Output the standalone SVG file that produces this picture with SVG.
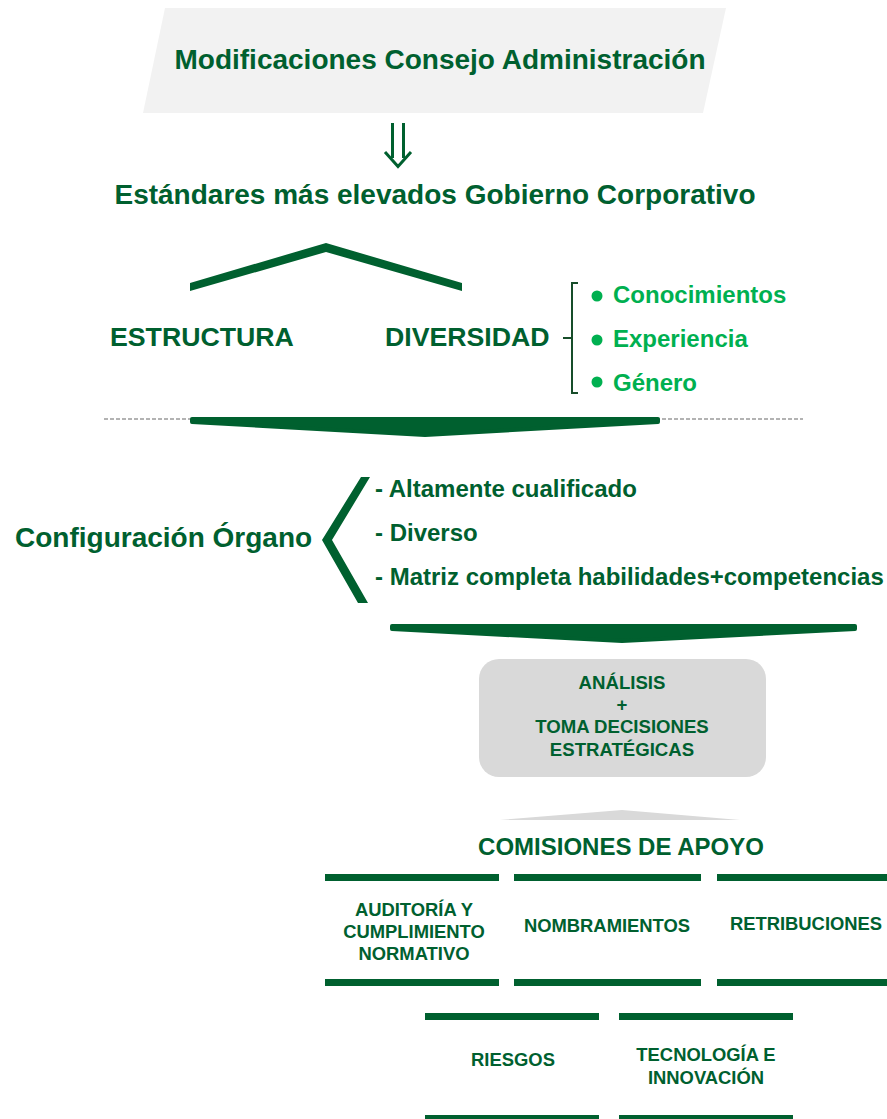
<svg xmlns="http://www.w3.org/2000/svg" width="887" height="1119" viewBox="0 0 887 1119">
<style>
text{font-family:"Liberation Sans",Arial,sans-serif;font-weight:bold;fill:#00602F}
.c{text-anchor:middle}
.g{fill:#00B050}
.dk{fill:#00602F}
</style>
<rect width="887" height="1119" fill="#ffffff"/>
<g id="title">
<polygon points="165,8 726,8 703,113 143,113" fill="#f2f2f2"/>
<text class="c" x="440" y="69" font-size="28">Modificaciones Consejo Administración</text>
</g>
<g id="connectors">
<path d="M392.5,123 V158 M403.5,123 V158 M385,152 L398,166.5 L411,152" fill="none" stroke="#00602F" stroke-width="3"/>
<polygon points="190,283 326,243 462,283 462,291 326,252 190,291" class="dk"/>
<line x1="104" y1="419" x2="803" y2="419" stroke="#9a9a9a" stroke-width="1.5" stroke-dasharray="4 2"/>
<polygon points="192,419 658,419 658,422 425,435 192,422" class="dk" stroke="#00602F" stroke-width="4" stroke-linejoin="round"/>
<polygon points="361,477 322,540 358,603 368,603 332,540 370,477" class="dk"/>
<polygon points="392,626 855,626 855,629 622,641 392,629" class="dk" stroke="#00602F" stroke-width="4" stroke-linejoin="round"/>
<polygon points="500,820 622,810 740,820" fill="#d9d9d9"/>
</g>
<g id="estandares">
<text class="c" x="435" y="204" font-size="28">Estándares más elevados Gobierno Corporativo</text>
</g>
<g id="estructura">
<text x="110" y="346" font-size="26.7">ESTRUCTURA</text>
</g>
<g id="diversidad">
<text x="385" y="346" font-size="26.7">DIVERSIDAD</text>
<path d="M578,283 H572 V393 H578 M563,338 H572" fill="none" stroke="#174d2a" stroke-width="2"/>
<circle cx="597" cy="296" r="5.5" class="g"/>
<circle cx="597" cy="340" r="5.5" class="g"/>
<circle cx="597" cy="382" r="5.5" class="g"/>
<text class="g" x="613" y="303" font-size="24">Conocimientos</text>
<text class="g" x="613" y="347" font-size="24">Experiencia</text>
<text class="g" x="613" y="391" font-size="24">Género</text>
</g>
<g id="configuracion">
<text x="15" y="547" font-size="28">Configuración Órgano</text>
<text x="375" y="497" font-size="24">- Altamente cualificado</text>
<text x="375" y="541" font-size="24">- Diverso</text>
<text x="375" y="585" font-size="24">- Matriz completa habilidades+competencias</text>
</g>
<g id="analisis">
<rect x="479" y="659" width="287" height="118" rx="20" fill="#d9d9d9"/>
<text class="c" x="622" y="689" font-size="18.6">ANÁLISIS</text>
<text class="c" x="622" y="711" font-size="18.6">+</text>
<text class="c" x="622" y="733" font-size="18.6">TOMA DECISIONES</text>
<text class="c" x="622" y="756" font-size="18.6">ESTRATÉGICAS</text>
</g>
<g id="comisiones">
<text class="c" x="621" y="855" font-size="24">COMISIONES DE APOYO</text>
</g>
<g id="auditoria">
<rect x="325" y="874" width="174" height="7" class="dk"/>
<rect x="325" y="979" width="174" height="7" class="dk"/>
<text class="c" x="414" y="916" font-size="18.4">AUDITORÍA Y</text>
<text class="c" x="414" y="938" font-size="18.4">CUMPLIMIENTO</text>
<text class="c" x="414" y="960" font-size="18.4">NORMATIVO</text>
</g>
<g id="nombramientos">
<rect x="514" y="874" width="187" height="7" class="dk"/>
<rect x="514" y="979" width="187" height="7" class="dk"/>
<text class="c" x="607" y="932" font-size="18.4">NOMBRAMIENTOS</text>
</g>
<g id="retribuciones">
<rect x="717" y="874" width="170" height="7" class="dk"/>
<rect x="717" y="979" width="170" height="7" class="dk"/>
<text class="c" x="806" y="930" font-size="18.4">RETRIBUCIONES</text>
</g>
<g id="riesgos">
<rect x="425" y="1013" width="174" height="7" class="dk"/>
<rect x="425" y="1115" width="174" height="7" class="dk"/>
<text class="c" x="513" y="1066" font-size="18.4">RIESGOS</text>
</g>
<g id="tecnologia">
<rect x="619" y="1013" width="174" height="7" class="dk"/>
<rect x="619" y="1115" width="174" height="7" class="dk"/>
<text class="c" x="706" y="1061" font-size="18.4">TECNOLOGÍA E</text>
<text class="c" x="706" y="1084" font-size="18.4">INNOVACIÓN</text>
</g>
</svg>
